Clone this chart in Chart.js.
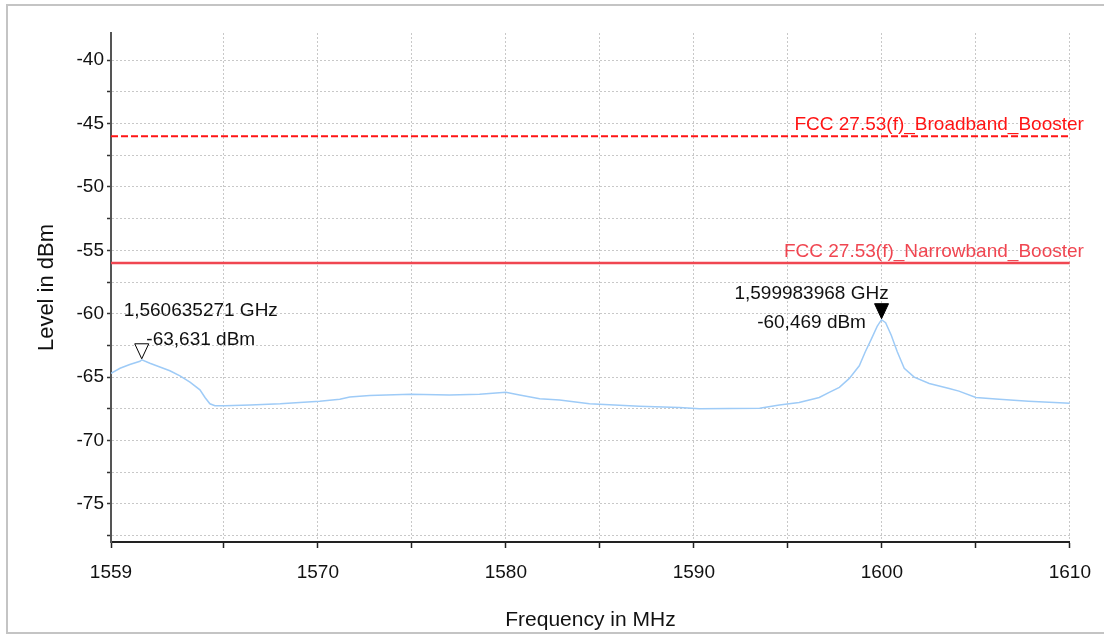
<!DOCTYPE html>
<html>
<head>
<meta charset="utf-8">
<title>Spectrum trace</title>
<script src="https://cdn.jsdelivr.net/npm/chart.js@4.4.0/dist/chart.umd.min.js"></script>
<style>
  body { margin: 0; background: #fff; }
  #wrap { position: relative; width: 1104px; height: 635px; overflow: hidden; }
  #frame { position: absolute; left: 6px; top: 4px; width: 1110px; height: 630px; border: 2px solid #c4c4c4; box-sizing: border-box; }
  #chart { position: absolute; left: 0; top: 0; }
</style>
</head>
<body>
<div id="wrap">
  <div id="frame"></div>
  <canvas id="chart" width="1104" height="635"></canvas>
</div>
<script>
// trace (MHz / dBm)
const freqMHz = [1559.0, 1559.48, 1560.0, 1560.54, 1560.64, 1561.07, 1561.6, 1562.13, 1562.67, 1563.2,
  1563.73, 1564.0, 1564.26, 1564.53, 1565.06, 1566.4, 1568.0, 1569.04, 1570.1, 1571.17,
  1571.7, 1572.76, 1574.94, 1577.0, 1578.6, 1580.0, 1580.73, 1581.8, 1582.86, 1584.45,
  1587.1, 1589.23, 1590.3, 1593.5, 1594.55, 1595.6, 1596.67, 1597.2, 1597.74, 1598.27,
  1598.8, 1599.12, 1599.44, 1599.75, 1599.98, 1600.2, 1600.5, 1600.82, 1601.19, 1601.72,
  1602.52, 1603.58, 1604.1, 1605.0, 1606.24, 1607.8, 1610.0];
const levelDbm = [-64.7, -64.3, -64.0, -63.75, -63.63, -63.9, -64.2, -64.5, -64.9, -65.4,
  -66.0, -66.6, -67.1, -67.25, -67.25, -67.2, -67.1, -67.0, -66.9, -66.75,
  -66.56, -66.45, -66.35, -66.4, -66.35, -66.2, -66.4, -66.7, -66.8, -67.1,
  -67.3, -67.4, -67.5, -67.45, -67.2, -67.0, -66.6, -66.2, -65.8, -65.1,
  -64.1, -63.0, -62.0, -61.0, -60.47, -60.7, -61.7, -63.0, -64.3, -65.0,
  -65.5, -65.9, -66.1, -66.6, -66.75, -66.9, -67.05];

const limitNames = ['FCC 27.53(f)_Broadband_Booster', 'FCC 27.53(f)_Narrowband_Booster'];
const limitLevels = [-46, -56];

const markerFreqMHz = [1560.635271, 1599.983968];
const markerLevels = [-63.631, -60.469];

const xTicks = [1559, 1565, 1570, 1575, 1580, 1585, 1590, 1595, 1600, 1605, 1610];
const xLabels = [1559, 1570, 1580, 1590, 1600, 1610];
const yTicks = [-77.5, -75, -72.5, -70, -67.5, -65, -62.5, -60, -57.5, -55, -52.5, -50, -47.5, -45, -42.5, -40];
const yLabels = [-75, -70, -65, -60, -55, -50, -45, -40];

const FONT = '"Liberation Sans", Arial, sans-serif';
const limitColors = ['#ff1414', '#f04651'];
const markerFilled = [false, true];
const markerLabelDx = [59, -70];
const markerLabelDy = [-44, -21];

const trace = freqMHz.map((f, i) => ({ x: f, y: levelDbm[i] }));
const limitSets = limitLevels.map((lv, i) => ({
  label: limitNames[i],
  data: [{ x: xTicks[0], y: lv }, { x: xTicks[xTicks.length - 1], y: lv }],
  borderColor: limitColors[i],
  borderWidth: i === 0 ? 2 : 2.5,
  borderDash: i === 0 ? [7, 3] : [],
  pointRadius: 0
}));

/* limit-line names and the two peak markers */
const overlayPlugin = {
  id: 'overlay',
  afterDatasetsDraw(chart) {
    const { ctx, chartArea, scales } = chart;
    ctx.save();
    ctx.font = '19px ' + FONT;
    ctx.textAlign = 'right';
    ctx.textBaseline = 'alphabetic';
    limitLevels.forEach((lv, i) => {
      ctx.fillStyle = limitColors[i];
      ctx.fillText(limitNames[i], chartArea.right + 14, scales.y.getPixelForValue(lv) - 6);
    });

    markerFreqMHz.forEach((f, i) => {
      const px = scales.x.getPixelForValue(f);
      const py = scales.y.getPixelForValue(markerLevels[i]);
      ctx.beginPath();
      ctx.moveTo(px, py - 1);
      ctx.lineTo(px - 7, py - 16);
      ctx.lineTo(px + 7, py - 16);
      ctx.closePath();
      ctx.lineWidth = 1;
      ctx.strokeStyle = '#000';
      ctx.fillStyle = markerFilled[i] ? '#000' : '#fff';
      ctx.fill();
      ctx.stroke();

      ctx.fillStyle = '#111';
      ctx.textAlign = 'center';
      const ghz = (f / 1000).toFixed(9).replace('.', ',') + ' GHz';
      const dbm = markerLevels[i].toFixed(3).replace('.', ',') + ' dBm';
      ctx.fillText(ghz, px + markerLabelDx[i], py + markerLabelDy[i]);
      ctx.fillText(dbm, px + markerLabelDx[i], py + markerLabelDy[i] + 29);
    });
    ctx.restore();
  }
};

new Chart(document.getElementById('chart'), {
  type: 'line',
  data: {
    datasets: [
      { label: 'Trace', data: trace, borderColor: '#9ecbf7', borderWidth: 1.5, pointRadius: 0, tension: 0 },
      ...limitSets
    ]
  },
  options: {
    responsive: false,
    animation: false,
    layout: { padding: { top: 33, right: 33, left: 0, bottom: 0 } },
    plugins: { legend: { display: false }, tooltip: { enabled: false } },
    scales: {
      x: {
        type: 'linear',
        min: 1559, max: 1610,
        afterBuildTicks: s => { s.ticks = xTicks.map(v => ({ value: v })); },
        afterFit: s => { s.height = 93; },
        ticks: {
          autoSkip: false, maxRotation: 0, padding: 13, color: '#111',
          font: { family: FONT, size: 19 },
          callback: v => xLabels.includes(v) ? String(v) : ''
        },
        grid: { color: '#c8c8c8', lineWidth: 1, tickLength: 6, tickColor: '#222', tickWidth: 1.5, tickBorderDash: [] },
        border: { display: true, color: '#222', width: 2, dash: [2, 2] },
        title: { display: true, text: 'Frequency in MHz', color: '#111', font: { family: FONT, size: 21 }, padding: { top: 0, bottom: 2 } }
      },
      y: {
        type: 'linear',
        min: -78, max: -37.86,
        afterBuildTicks: s => { s.ticks = yTicks.map(v => ({ value: v })); },
        afterFit: s => { s.width = 111; },
        ticks: {
          autoSkip: false, padding: 3, color: '#111',
          font: { family: FONT, size: 19 },
          callback: v => yLabels.includes(v) ? String(v) : ''
        },
        grid: { color: '#c8c8c8', lineWidth: 1, tickLength: 4, tickColor: '#333', tickWidth: 1.5, tickBorderDash: [] },
        border: { display: true, color: '#555', width: 2, dash: [2, 2] },
        title: { display: true, text: 'Level in dBm', color: '#111', font: { family: FONT, size: 22 }, padding: { top: 34, bottom: 0 } }
      }
    }
  },
  plugins: [overlayPlugin]
});
</script>
</body>
</html>
